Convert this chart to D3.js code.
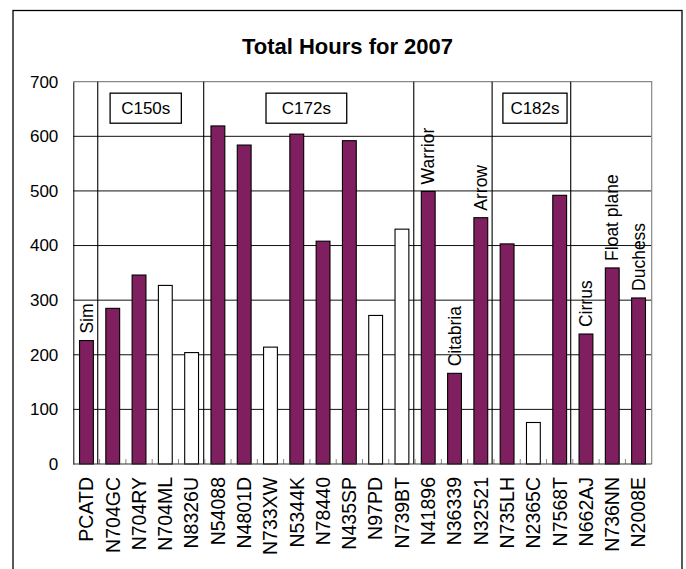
<!DOCTYPE html>
<html>
<head>
<meta charset="utf-8">
<script src="https://cdn.jsdelivr.net/npm/d3@7"></script>
<style>
  body { margin: 0; background: #fff; }
  text { font-family: Arial, "Liberation Sans", sans-serif; fill: #000; }
</style>
</head>
<body>
<svg id="chart" width="686" height="569"></svg>
<script>
// aircraft and their hours for the year
const tails = ["PCATD", "N704GC", "N704RY", "N704ML", "N8326U", "N54088", "N4801D", "N733XW",
  "N5344K", "N78440", "N435SP", "N97PD", "N739BT", "N41896", "N36339", "N32521",
  "N735LH", "N2365C", "N7568T", "N662AJ", "N736NN", "N2008E"];
const hours = [226, 285, 346, 327, 204, 619, 584, 214, 604, 408, 592, 272, 430, 499, 166, 451,
  403, 76, 492, 238, 359, 304];

// aircraft drawn as empty bars
const hollowTails = ["N704ML", "N8326U", "N733XW", "N97PD", "N739BT", "N2365C"];

// notes written above some bars
const noteTails = ["PCATD", "N41896", "N36339", "N32521", "N662AJ", "N736NN", "N2008E"];
const noteTexts = ["Sim", "Warrior", "Citabria", "Arrow", "Cirrus", "Float plane", "Duchess"];

const yTicks = [0, 100, 200, 300, 400, 500, 600, 700];

// group boxes and divider lines, in category units
const groupNames = ["C150s", "C172s", "C182s"];
const groupFrom = [1.40, 7.33, 16.34];
const groupTo = [4.11, 10.40, 18.78];
const dividers = [0.93, 4.96, 12.95, 15.93, 18.92];

const svg = d3.select("#chart");
const plotL = 73.3, plotR = 651.7, plotT = 81.7, plotB = 464;
const purple = "#7f1f5f";

const x = d3.scaleBand().domain(tails).range([plotL, plotR])
  .paddingInner(0.474).paddingOuter(0.237);
const xi = d3.scaleLinear().domain([0, tails.length]).range([plotL, plotR]);
const y = d3.scaleLinear().domain([0, 700]).range([plotB, plotT]);

// outer frame
svg.append("rect")
  .attr("x", 13).attr("y", 10.5).attr("width", 669).attr("height", 620)
  .attr("fill", "#fff").attr("stroke", "#000").attr("stroke-width", 1.3);

svg.append("text")
  .attr("x", 347.5).attr("y", 54)
  .attr("text-anchor", "middle")
  .style("font-size", "22px").style("font-weight", "bold")
  .text("Total Hours for 2007");

// gridlines
svg.append("g")
  .selectAll("line")
  .data(yTicks.slice(1, -1))
  .join("line")
  .attr("x1", plotL).attr("x2", plotR)
  .attr("y1", d => y(d)).attr("y2", d => y(d))
  .attr("stroke", "#111").attr("stroke-width", 1);

// plot frame top / right
svg.append("path")
  .attr("d", `M${plotL},${y(700)}H${plotR}V${plotB}`)
  .attr("fill", "none").attr("stroke", "#888").attr("stroke-width", 1.2);

// y axis
const yAxis = svg.append("g")
  .attr("transform", `translate(${plotL},0)`)
  .call(d3.axisLeft(y).tickValues(yTicks).tickSize(0).tickPadding(15));
yAxis.select(".domain").attr("stroke", "#000");
yAxis.selectAll("text").style("font-size", "17px").style("font-family", "Arial, 'Liberation Sans', sans-serif");

// dividers
svg.append("g")
  .selectAll("line")
  .data(dividers)
  .join("line")
  .attr("x1", d => xi(d)).attr("x2", d => xi(d))
  .attr("y1", y(700)).attr("y2", plotB)
  .attr("stroke", "#000").attr("stroke-width", 1.1);

// bars
svg.append("g")
  .selectAll("rect")
  .data(tails)
  .join("rect")
  .attr("x", d => x(d))
  .attr("y", (d, i) => y(hours[i]))
  .attr("width", x.bandwidth())
  .attr("height", (d, i) => plotB - y(hours[i]))
  .attr("fill", d => hollowTails.includes(d) ? "#fff" : purple)
  .attr("stroke", "#000").attr("stroke-width", 1.1);

// x axis with inside ticks at category boundaries
svg.append("g")
  .selectAll("line")
  .data(d3.range(1, tails.length))
  .join("line")
  .attr("x1", d => xi(d)).attr("x2", d => xi(d))
  .attr("y1", plotB).attr("y2", plotB - 5)
  .attr("stroke", "#888");
svg.append("line")
  .attr("x1", plotL).attr("x2", plotR)
  .attr("y1", plotB).attr("y2", plotB)
  .attr("stroke", "#333").attr("stroke-width", 1.2);

svg.append("g")
  .selectAll("text")
  .data(tails)
  .join("text")
  .attr("transform", d => `translate(${x(d) + x.bandwidth() / 2},477) rotate(-90)`)
  .attr("text-anchor", "end")
  .attr("dy", "0.35em")
  .style("font-size", "19.5px")
  .text(d => d);

// notes above bars
svg.append("g")
  .selectAll("text")
  .data(noteTails)
  .join("text")
  .attr("transform", d => `translate(${x(d) + x.bandwidth() / 2},${y(hours[tails.indexOf(d)]) - 7}) rotate(-90)`)
  .attr("text-anchor", "start")
  .attr("dy", "0.35em")
  .style("font-size", "17.5px")
  .text((d, i) => noteTexts[i]);

// group boxes
const groups = svg.append("g")
  .selectAll("g")
  .data(groupNames)
  .join("g");
groups.append("rect")
  .attr("x", (d, i) => xi(groupFrom[i]))
  .attr("y", y(679))
  .attr("width", (d, i) => xi(groupTo[i]) - xi(groupFrom[i]))
  .attr("height", y(624) - y(679))
  .attr("fill", "#fff").attr("stroke", "#000").attr("stroke-width", 1.3);
groups.append("text")
  .attr("x", (d, i) => (xi(groupFrom[i]) + xi(groupTo[i])) / 2)
  .attr("y", y(651.5))
  .attr("dy", "0.35em")
  .attr("text-anchor", "middle")
  .style("font-size", "17px")
  .text(d => d);
</script>
</body>
</html>
